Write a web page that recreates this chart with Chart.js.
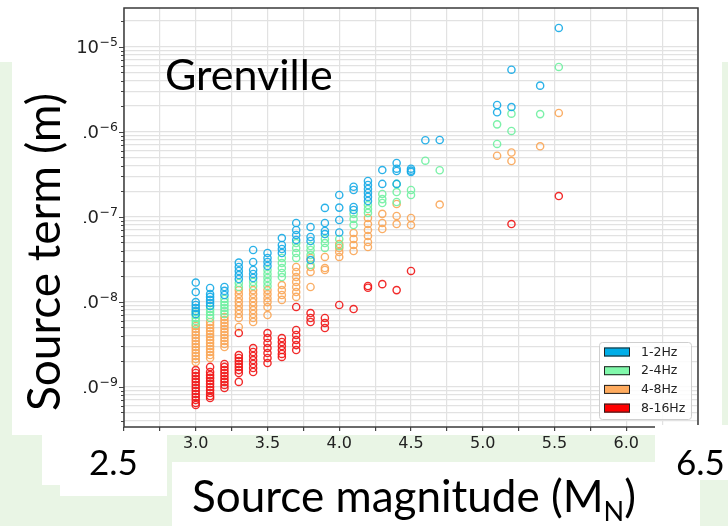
<!DOCTYPE html>
<html lang="en">
<head>
<meta charset="UTF-8">
<title>Grenville source terms</title>
<script src="https://cdn.jsdelivr.net/npm/chart.js"></script>
<style>
  body { margin: 0; background: #fff; }
  #chart { display: block; }
</style>
</head>
<body>
<canvas id="chart" width="728" height="526"></canvas>
<script>
// source magnitude of each event group
const mags = [3.0, 3.1, 3.2, 3.3, 3.4, 3.5, 3.6, 3.7, 3.8, 3.9, 4.0, 4.1, 4.2, 4.3, 4.4, 4.5, 4.6, 4.7, 5.1, 5.2, 5.4, 5.53];

// source terms (m), one list per magnitude in mags
const term1to2 = [
  [1.68e-8, 1.30e-8, 9.9e-9, 9.15e-9, 8.43e-9, 7.78e-9, 7.17e-9],
  [1.45e-8, 1.23e-8, 1.14e-8, 1.05e-8, 9.66e-9, 8.9e-9],
  [1.49e-8, 1.34e-8, 1.20e-8],
  [2.88e-8, 2.56e-8, 2.30e-8, 2.06e-8, 1.85e-8],
  [4.06e-8, 2.93e-8, 2.36e-8, 2.12e-8, 1.90e-8],
  [3.74e-8, 3.27e-8, 2.93e-8, 2.63e-8],
  [5.61e-8, 4.65e-8, 4.17e-8, 3.74e-8],
  [8.43e-8, 6.98e-8, 6.10e-8, 5.32e-8],
  [7.57e-8, 5.77e-8, 5.18e-8, 3.09e-8],
  [1.27e-7, 8.43e-8, 6.80e-8, 6.25e-8],
  [1.80e-7, 1.28e-7, 9.14e-8, 6.52e-8],
  [2.25e-7, 2.06e-7, 1.30e-7, 1.20e-7],
  [2.63e-7, 2.36e-7, 2.12e-7, 1.90e-7, 1.71e-7, 1.53e-7],
  [3.54e-7, 2.43e-7],
  [4.28e-7, 3.67e-7, 3.45e-7, 2.43e-7],
  [3.67e-7, 3.48e-7, 3.36e-7],
  [7.93e-7],
  [7.98e-7],
  [2.06e-6, 1.69e-6],
  [5.36e-6, 1.95e-6],
  [3.48e-6],
  [1.66e-5]
];
const term2to4 = [
  [7.57e-9, 6.97e-9, 6.43e-9, 5.93e-9, 5.47e-9],
  [8.2e-9, 7.57e-9, 6.97e-9, 6.43e-9],
  [1.08e-8, 9.9e-9, 9.15e-9, 8.43e-9, 7.78e-9, 7.17e-9],
  [1.66e-8, 1.49e-8],
  [1.71e-8, 1.53e-8],
  [2.36e-8, 2.12e-8, 1.90e-8, 1.71e-8, 1.53e-8],
  [3.27e-8, 2.85e-8, 2.49e-8, 2.18e-8, 1.95e-8],
  [4.90e-8, 4.29e-8, 3.74e-8, 3.27e-8],
  [4.52e-8, 4.06e-8, 3.54e-8, 2.70e-8],
  [5.47e-8, 4.90e-8, 4.29e-8],
  [5.47e-8, 4.52e-8],
  [1.08e-7, 9.40e-8, 7.98e-8],
  [1.37e-7, 1.23e-7, 1.11e-7],
  [1.85e-7, 1.61e-7, 1.45e-7],
  [2.43e-7, 1.95e-7, 1.49e-7],
  [2.06e-7, 1.80e-7],
  [4.56e-7],
  [3.52e-7],
  [1.22e-6, 7.17e-7],
  [1.63e-6, 1.02e-6],
  [1.61e-6],
  [5.77e-6]
];
const term4to8 = [
  [5.18e-9, 4.77e-9, 4.40e-9, 4.06e-9, 3.74e-9, 3.45e-9, 3.18e-9, 2.93e-9, 2.70e-9, 2.49e-9, 2.30e-9, 2.12e-9, 1.95e-9],
  [5.77e-9, 5.32e-9, 4.90e-9, 4.52e-9, 4.17e-9, 3.84e-9, 3.54e-9, 3.27e-9, 3.01e-9, 2.78e-9, 2.56e-9, 2.36e-9, 2.18e-9],
  [6.61e-9, 6.09e-9, 5.62e-9, 5.18e-9, 4.77e-9, 4.40e-9, 4.06e-9, 3.74e-9, 3.45e-9, 3.18e-9, 2.93e-9],
  [1.37e-8, 1.23e-8, 1.10e-8, 9.9e-9, 8.9e-9, 7.98e-9, 7.17e-9, 6.43e-9, 5.04e-9],
  [1.37e-8, 1.23e-8, 1.10e-8, 9.9e-9, 8.9e-9, 7.98e-9, 7.17e-9, 6.43e-9, 5.77e-9],
  [1.37e-8, 1.23e-8, 1.10e-8, 9.9e-9, 8.67e-9, 6.97e-9],
  [1.57e-8, 1.37e-8, 1.20e-8, 1.05e-8],
  [2.56e-8, 2.24e-8, 1.95e-8, 1.71e-8, 1.49e-8, 1.30e-8, 1.14e-8],
  [3.27e-8, 2.56e-8, 2.24e-8, 1.49e-8],
  [3.36e-8, 2.49e-8, 2.36e-8],
  [4.77e-8, 4.29e-8, 3.85e-8, 3.36e-8],
  [6.43e-8, 5.47e-8, 4.65e-8, 3.95e-8],
  [9.66e-8, 8.2e-8, 6.98e-8, 5.93e-8, 5.04e-8, 4.40e-8],
  [1.08e-7, 8.43e-8, 7.17e-8],
  [1.41e-7, 1.02e-7, 8.2e-8],
  [9.66e-8, 7.98e-8],
  [],
  [1.39e-7],
  [5.22e-7],
  [5.69e-7, 4.52e-7],
  [6.73e-7],
  [1.66e-6]
];
const term8to16 = [
  [1.57e-9, 1.45e-9, 1.34e-9, 1.23e-9, 1.14e-9, 1.05e-9, 9.66e-10, 8.91e-10, 8.22e-10, 7.57e-10, 6.98e-10, 6.44e-10, 6.1e-10],
  [1.71e-9, 1.49e-9, 1.37e-9, 1.27e-9, 1.17e-9, 1.08e-9, 9.93e-10, 9.15e-10, 8.44e-10, 7.78e-10, 7.37e-10],
  [1.85e-9, 1.71e-9, 1.57e-9, 1.45e-9, 1.34e-9, 1.23e-9, 1.14e-9, 1.05e-9, 9.66e-10],
  [4.28e-9, 2.36e-9, 2.18e-9, 2.01e-9, 1.85e-9, 1.71e-9, 1.57e-9, 1.45e-9, 1.14e-9],
  [2.85e-9, 2.56e-9, 2.30e-9, 2.06e-9, 1.85e-9, 1.66e-9, 1.49e-9],
  [4.28e-9, 3.74e-9, 3.27e-9, 2.85e-9, 2.49e-9, 2.18e-9, 1.90e-9],
  [3.74e-9, 3.36e-9, 3.01e-9, 2.70e-9, 2.43e-9, 2.24e-9],
  [8.67e-9, 4.65e-9, 4.06e-9, 3.54e-9, 3.09e-9, 2.70e-9],
  [7.36e-9, 6.43e-9, 5.77e-9],
  [6.43e-9, 5.61e-9, 4.90e-9],
  [9.15e-9],
  [8.2e-9],
  [1.53e-8, 1.46e-8],
  [1.61e-8],
  [1.37e-8],
  [2.30e-8],
  [],
  [],
  [],
  [8.2e-8],
  [],
  [1.75e-7]
];

const bandLabels = ['1-2Hz', '2-4Hz', '4-8Hz', '8-16Hz'];
const bandTerms = [term1to2, term2to4, term4to8, term8to16];
const ringColors = ['rgba(20,170,230,0.9)', 'rgba(110,240,160,0.9)', 'rgba(250,165,85,0.9)', 'rgba(240,20,20,0.9)'];
const patchColors = ['#00aee8', '#80f8aa', '#ffab5e', '#ff0000'];

// axis ranges and labelled x ticks
const xMin = 2.5, xMax = 6.5, xStep = 0.25;
const xLabelled = [3.0, 3.5, 4.0, 4.5, 5.0, 5.5, 6.0];
const yMin = 3.36e-10, yMax = 2.85e-5;
const yDecades = [-10, -9, -8, -7, -6, -5];

function toPoints(cols) {
  const pts = [];
  cols.forEach((vals, i) => vals.forEach(v => pts.push({ x: mags[i], y: v })));
  return pts;
}

const datasets = bandLabels.map((label, i) => ({
  label: label,
  data: toPoints(bandTerms[i]),
  borderColor: ringColors[i],
  backgroundColor: 'rgba(0,0,0,0)',
  patchColor: patchColors[i],
  pointStyle: 'circle',
  pointRadius: 3.6,
  pointBorderWidth: 1.4,
  pointHoverRadius: 3.6
}));

const GREEN = '#e9f5e5';
const BIG_FONT = 'Lato, "Open Sans", sans-serif';

// slide backdrop behind the plot
const backdrop = {
  id: 'backdrop',
  beforeDraw(chart) {
    const c = chart.ctx;
    c.save();
    c.fillStyle = GREEN;
    c.fillRect(0, 0, chart.width, chart.height);
    c.fillStyle = '#fff';
    c.fillRect(0, 0, 728, 62);
    c.fillRect(12, 0, 710, 435);
    c.restore();
  }
};

// frame, log tick marks and powers-of-ten labels, legend
const axesDecor = {
  id: 'axesDecor',
  afterDraw(chart) {
    const c = chart.ctx;
    const a = chart.chartArea;
    const ys = chart.scales.y;
    c.save();
    // y tick marks
    c.strokeStyle = '#444';
    c.lineWidth = 1;
    ys.ticks.forEach(t => {
      const y = Math.round(ys.getPixelForValue(t.value)) + 0.5;
      const len = t.major ? 5 : 3;
      c.beginPath();
      c.moveTo(a.left - len, y);
      c.lineTo(a.left, y);
      c.stroke();
    });
    // y labels as 10^n
    c.fillStyle = '#222';
    c.textBaseline = 'alphabetic';
    yDecades.forEach(e => {
      const v = Math.pow(10, e);
      if (v < ys.min || v > ys.max) return;
      const y = ys.getPixelForValue(v);
      const sup = '\u2212' + Math.abs(e);
      c.font = '12.5px "DejaVu Sans"';
      const supW = c.measureText(sup).width;
      const right = a.left - 6;
      c.textAlign = 'left';
      c.fillText(sup, right - supW, y - 1);
      c.font = '18px "DejaVu Sans"';
      c.textAlign = 'right';
      c.fillText('10', right - supW - 0.5, y + 6.5);
    });
    // frame
    c.strokeStyle = '#3a3a3a';
    c.lineWidth = 1.5;
    c.strokeRect(a.left, a.top, a.right - a.left, a.bottom - a.top);

    // legend in the lower right corner
    const bw = 92, bh = 77;
    const bx = a.right - 7 - bw, by = a.bottom - 8 - bh;
    c.fillStyle = 'rgba(255,255,255,0.85)';
    c.strokeStyle = '#cfcfcf';
    c.lineWidth = 1;
    c.beginPath();
    c.roundRect(bx + 0.5, by + 0.5, bw, bh, 3);
    c.fill();
    c.stroke();
    c.font = '12.5px "DejaVu Sans"';
    c.textAlign = 'left';
    c.textBaseline = 'middle';
    chart.data.datasets.forEach((ds, i) => {
      const cy = by + 10 + i * 18.7;
      c.fillStyle = ds.patchColor;
      c.fillRect(bx + 5, cy - 4.5, 26, 9);
      c.strokeStyle = '#222';
      c.lineWidth = 1;
      c.strokeRect(bx + 5.5, cy - 4, 25, 8);
      c.fillStyle = '#222';
      c.fillText(ds.label, bx + 42, cy + 0.5);
    });
    c.restore();
  }
};

// text boxes laid over the figure
const slideText = {
  id: 'slideText',
  afterDraw(chart) {
    const c = chart.ctx;
    c.save();
    c.fillStyle = '#fff';
    c.fillRect(12, 88, 72, 347);      // behind the y title
    c.fillRect(42, 435, 125, 50);     // behind "2.5"
    c.fillRect(60, 485, 107, 11);
    c.fillRect(172, 462, 528, 64);    // behind the x title
    c.fillRect(655, 425, 73, 55);     // behind "6.5"

    c.fillStyle = '#000';
    c.textBaseline = 'alphabetic';
    c.textAlign = 'left';
    c.font = '43px ' + BIG_FONT;
    c.fillText('Grenville', 165, 90);

    c.font = '35px ' + BIG_FONT;
    c.fillText('2.5', 89, 475);
    c.fillText('6.5', 676, 475);

    // x title with subscript N
    c.font = '44px ' + BIG_FONT;
    const head = 'Source magnitude (M';
    let x = 192;
    c.fillText(head, x, 512);
    x += c.measureText(head).width;
    c.font = '27px ' + BIG_FONT;
    c.fillText('N', x, 521);
    x += c.measureText('N').width;
    c.font = '44px ' + BIG_FONT;
    c.fillText(')', x, 512);

    // y title
    c.translate(60, 252);
    c.rotate(-Math.PI / 2);
    c.textAlign = 'center';
    c.font = '46px ' + BIG_FONT;
    c.fillText('Source term (m)', 0, 0);
    c.restore();
  }
};

new Chart(document.getElementById('chart'), {
  type: 'scatter',
  data: { datasets: datasets },
  options: {
    responsive: false,
    animation: false,
    devicePixelRatio: 1,
    layout: { padding: { left: 0, top: 8, right: 30, bottom: 0 } },
    plugins: {
      legend: { display: false },
      tooltip: { enabled: false }
    },
    scales: {
      x: {
        type: 'linear',
        min: xMin,
        max: xMax,
        afterFit: s => { s.height = 99; },
        border: { display: false },
        grid: { color: '#e2e2e2', lineWidth: 1.2, tickColor: '#444', tickLength: 4 },
        ticks: {
          stepSize: xStep,
          autoSkip: false,
          maxRotation: 0,
          padding: 3,
          color: '#222',
          font: { family: 'DejaVu Sans', size: 16 },
          callback: v => xLabelled.some(l => Math.abs(l - v) < 1e-9) ? v.toFixed(1) : ''
        }
      },
      y: {
        type: 'logarithmic',
        min: yMin,
        max: yMax,
        afterFit: s => { s.width = 124; },
        afterBuildTicks: s => {
          const t = [];
          yDecades.forEach(e => {
            for (let k = 1; k <= 9; k++) {
              const v = k * Math.pow(10, e);
              if (v >= s.min && v <= s.max) t.push({ value: v, major: k === 1 });
            }
          });
          s.ticks = t;
        },
        border: { display: false },
        grid: { color: '#e2e2e2', lineWidth: 1.2, drawTicks: false },
        ticks: { display: false }
      }
    }
  },
  plugins: [backdrop, axesDecor, slideText]
});
</script>
</body>
</html>
